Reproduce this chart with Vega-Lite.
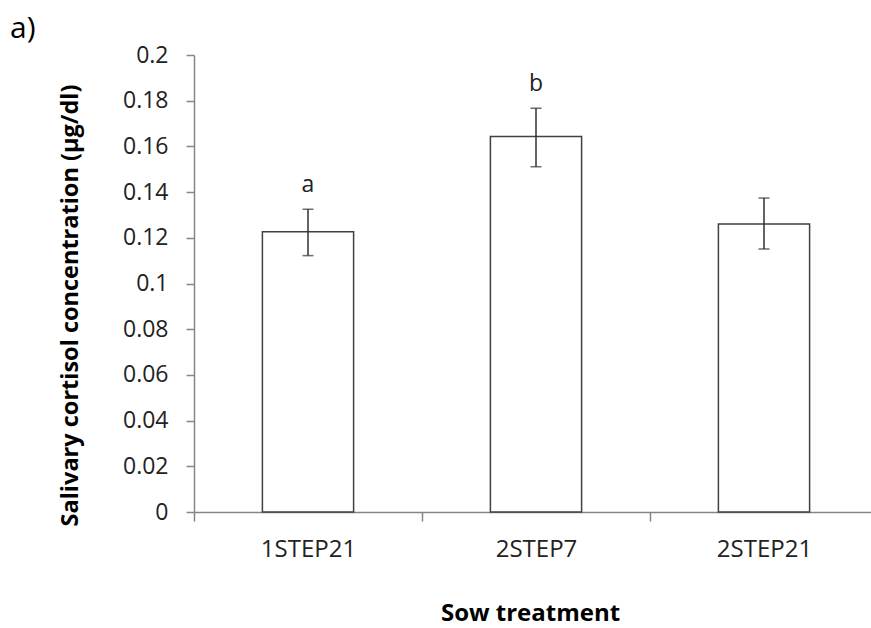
{
  "$schema": "https://vega.github.io/schema/vega-lite/v6.json",
  "autosize": "none",
  "width": 684,
  "height": 457,
  "padding": {"left": 194, "top": 55, "right": 0, "bottom": 116},
  "background": "white",
  "title": {"text": "a)", "anchor": "start", "frame": "group", "dx": -184, "dy": 12, "fontSize": 30, "font": "Open Sans", "fontWeight": "normal", "color": "#000000", "offset": 12},
  "config": {"view": {"stroke": null}, "font": "Open Sans"},
  "data": {"values": [
    {"treatment": "1STEP21", "mean": 0.1227, "lower": 0.1122, "upper": 0.1325, "letter": "a"},
    {"treatment": "2STEP7", "mean": 0.1643, "lower": 0.1511, "upper": 0.1767, "letter": "b"},
    {"treatment": "2STEP21", "mean": 0.126, "lower": 0.1151, "upper": 0.1374, "letter": ""}
  ]},
  "encoding": {
    "x": {"field": "treatment", "type": "nominal", "sort": null,
      "scale": {"paddingInner": 0, "paddingOuter": 0},
      "axis": {"title": "Sow treatment", "labelAngle": 0, "tickBand": "extent", "tickSize": 9, "tickColor": "#868686", "domainColor": "#868686", "domainWidth": 1.5, "tickWidth": 1.5,
        "labelFontSize": 24, "labelColor": "#222222", "labelPadding": 16, "titleFontSize": 24, "titleFontWeight": "bold", "titleColor": "#000000", "titlePadding": 40, "titleX": 336}}
  },
  "layer": [
    {"mark": {"type": "bar", "width": {"band": 0.4}, "fill": "white", "stroke": "#404040", "strokeWidth": 1.5},
     "encoding": {"y": {"field": "mean", "type": "quantitative",
       "scale": {"domain": [0, 0.2], "nice": false},
       "axis": {"values": [0, 0.02, 0.04, 0.06, 0.08, 0.1, 0.12, 0.14, 0.16, 0.18, 0.2], "format": "~g", "grid": false, "tickSize": 8, "tickColor": "#868686", "domainColor": "#868686", "domainWidth": 1.5, "tickWidth": 1.5,
         "labelFontSize": 23, "labelColor": "#222222", "labelPadding": 18,
         "title": "Salivary cortisol concentration (µg/dl)", "titleFontSize": 23.5, "titleFontWeight": "bold", "titleColor": "#000000", "titlePadding": 40, "titleY": 250}}}},
    {"mark": {"type": "rule", "color": "#303030", "strokeWidth": 1.5},
     "encoding": {"y": {"field": "lower", "type": "quantitative"}, "y2": {"field": "upper"}}},
    {"mark": {"type": "tick", "color": "#303030", "thickness": 1.5, "size": 11},
     "encoding": {"y": {"field": "lower", "type": "quantitative"}}},
    {"mark": {"type": "tick", "color": "#303030", "thickness": 1.5, "size": 11},
     "encoding": {"y": {"field": "upper", "type": "quantitative"}}},
    {"mark": {"type": "text", "baseline": "bottom", "dy": -12, "fontSize": 23, "color": "#222222"},
     "encoding": {"y": {"field": "upper", "type": "quantitative"}, "text": {"field": "letter"}}}
  ]
}
